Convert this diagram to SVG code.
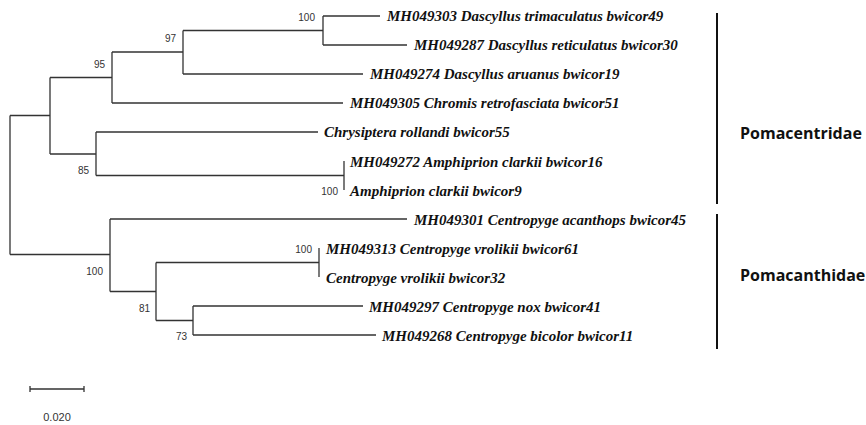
<svg xmlns="http://www.w3.org/2000/svg" width="866" height="425" viewBox="0 0 866 425">
<style>
.br{stroke:#333;stroke-width:1.3;fill:none}
.lf{font-family:"Liberation Serif",serif;font-style:italic;font-weight:bold;font-size:15px;fill:#111}
.bs{font-family:"Liberation Sans",Arial,sans-serif;font-size:10px;fill:#333;text-anchor:end}
.fam{font-family:"Open Sans","Noto Sans",sans-serif;font-weight:bold;font-size:16px;fill:#111}
.bk{stroke:#111;stroke-width:2;fill:none}
</style>
<rect width="866" height="425" fill="#fff"/>
<g id="connectors">
<path class="br" d="M10,115.5V254.5M10,115.5H50M10,254.5H110"/>
<path class="br" d="M50,77.5V154M50,77.5H112M50,154H96"/>
<path class="br" d="M112,52V103M112,52H183M112,103H343"/>
<path class="br" d="M183,30.5V74M183,30.5H323M183,74H363"/>
<path class="br" d="M323,16V45M323,16H380M323,45H407"/>
<path class="br" d="M96,132V175.5M96,132H318M96,175.5H344"/>
<path class="br" d="M344,161V190"/>
<path class="br" d="M110,219V291.5M110,219H407M110,291.5H156"/>
<path class="br" d="M156,262.5V320.5M156,262.5H319M156,320.5H193"/>
<path class="br" d="M319,248V277"/>
<path class="br" d="M193,306V335M193,306H363M193,335H376"/>
</g>
<g id="bootstrap">
<text class="bs" x="315" y="21">100</text>
<text class="bs" x="176" y="42">97</text>
<text class="bs" x="105" y="68">95</text>
<text class="bs" x="89" y="174">85</text>
<text class="bs" x="338" y="195">100</text>
<text class="bs" x="103" y="275">100</text>
<text class="bs" x="312" y="253">100</text>
<text class="bs" x="150" y="312">81</text>
<text class="bs" x="187" y="340">73</text>
</g>
<g id="leaves">
<text class="lf" x="387" y="21">MH049303 Dascyllus trimaculatus bwicor49</text>
<text class="lf" x="414" y="50">MH049287 Dascyllus reticulatus bwicor30</text>
<text class="lf" x="370" y="79">MH049274 Dascyllus aruanus bwicor19</text>
<text class="lf" x="350" y="108">MH049305 Chromis retrofasciata bwicor51</text>
<text class="lf" x="324" y="137">Chrysiptera rollandi bwicor55</text>
<text class="lf" x="350" y="167">MH049272 Amphiprion clarkii bwicor16</text>
<text class="lf" x="350" y="196">Amphiprion clarkii bwicor9</text>
<text class="lf" x="414" y="225">MH049301 Centropyge acanthops bwicor45</text>
<text class="lf" x="326" y="254">MH049313 Centropyge vrolikii bwicor61</text>
<text class="lf" x="326" y="283">Centropyge vrolikii bwicor32</text>
<text class="lf" x="369" y="312">MH049297 Centropyge nox bwicor41</text>
<text class="lf" x="382" y="341">MH049268 Centropyge bicolor bwicor11</text>
</g>
<g id="families">
<line class="bk" x1="717" y1="13" x2="717" y2="204"/>
<text class="fam" x="740" y="139">Pomacentridae</text>
<line class="bk" x1="717" y1="214" x2="717" y2="349"/>
<text class="fam" x="740" y="281">Pomacanthidae</text>
</g>
<g id="scale">
<path class="br" d="M30,389H84M30,386V392M84,386V392"/>
<text x="57" y="421" style="font-family:'Liberation Sans',Arial,sans-serif;font-size:11px;fill:#333;text-anchor:middle">0.020</text>
</g>
</svg>
